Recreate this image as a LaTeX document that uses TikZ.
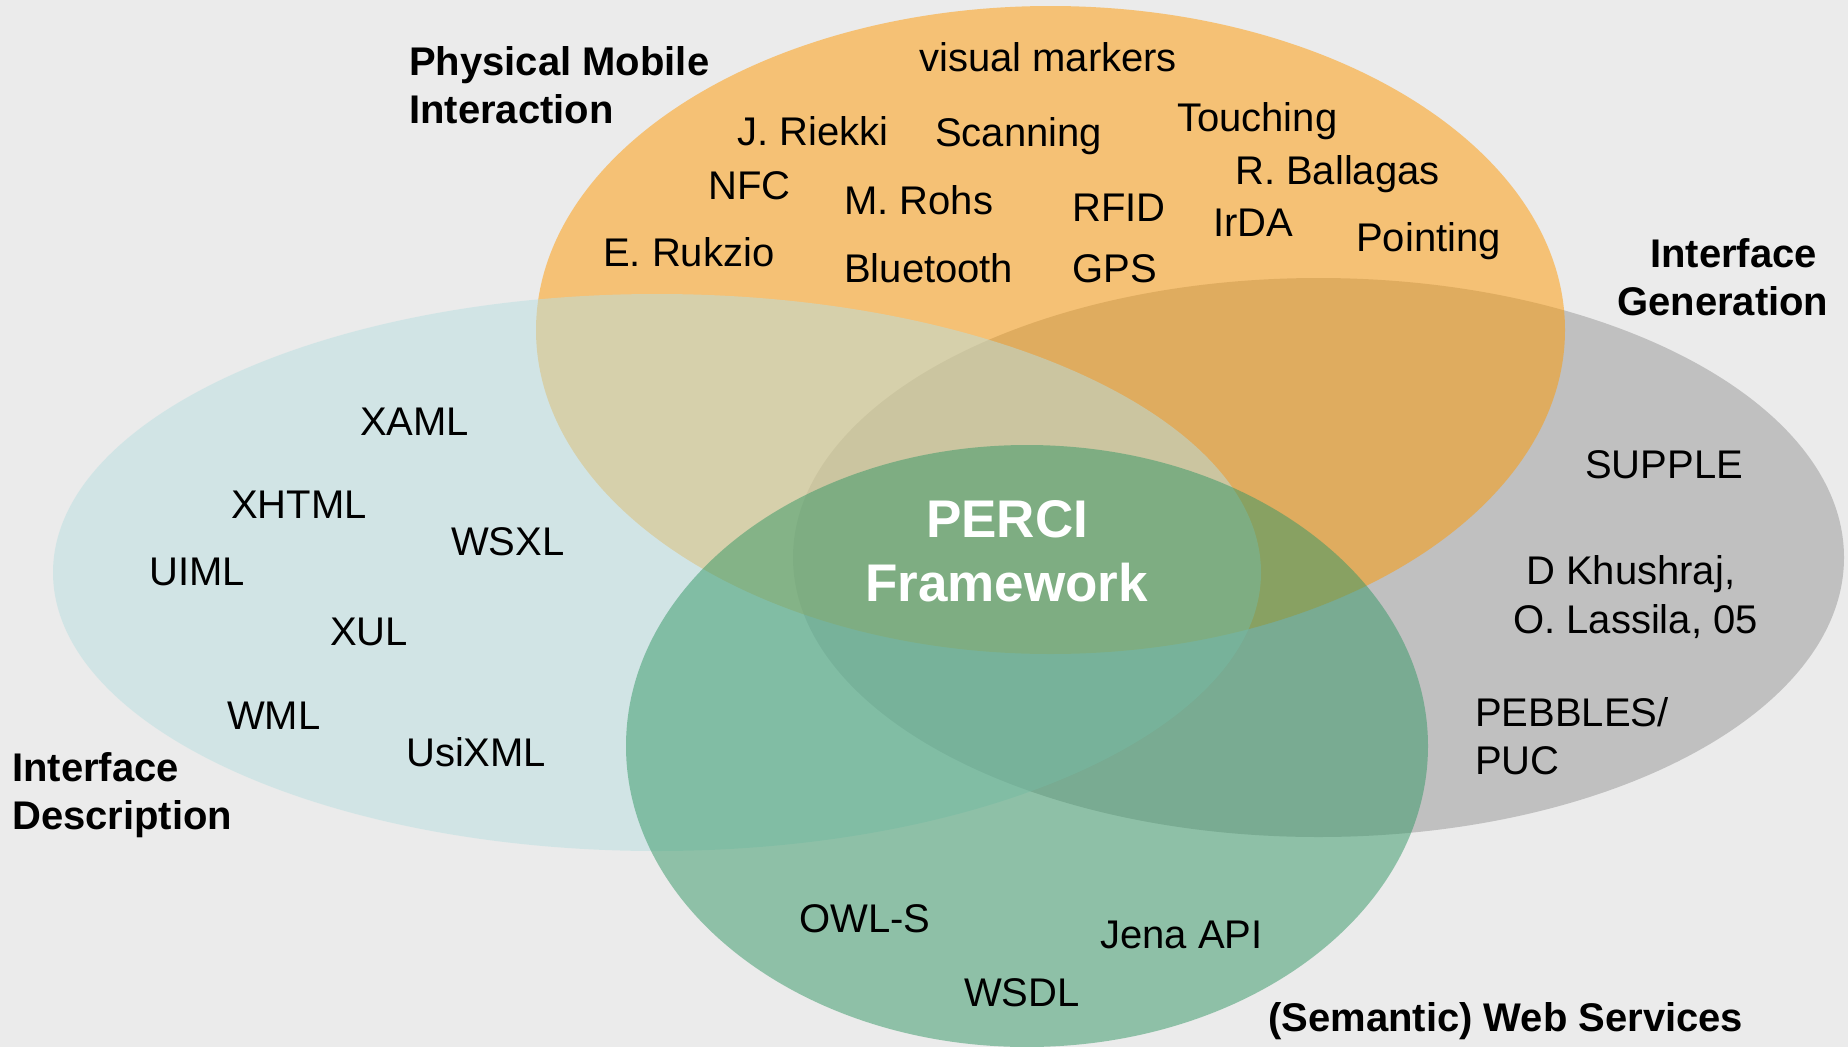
\documentclass[tikz,border=0pt]{standalone}
\usepackage{fontspec}
\setmainfont{Liberation Sans}
\definecolor{bgc}{RGB}{235,235,235}
\definecolor{cgrey}{RGB}{192,192,192}
\definecolor{corange}{RGB}{255,153,0}
\definecolor{cblue}{RGB}{185,223,225}
\definecolor{cgreen}{RGB}{51,151,101}
\begin{document}
\begin{tikzpicture}[x=1pt,y=-1pt,
  txt/.style={anchor=base west, inner sep=0pt, font=\fontsize{40}{48}\selectfont, text=black},
  ttl/.style={txt, font=\fontsize{40}{48}\selectfont\bfseries},
  big/.style={anchor=base west, inner sep=0pt, font=\fontsize{53}{64}\selectfont\bfseries, text=white},
  setfill/.style={fill=#1, fill opacity=0.5}]
\fill[bgc] (0,0) rectangle (1848,1047);
\useasboundingbox (0,0) rectangle (1848,1047);
% ellipses
\fill[cgrey] (1318.5,557.5) ellipse [x radius=525.5pt, y radius=279.5pt];
\fill[setfill=corange] (1050.5,330) ellipse [x radius=514.5pt, y radius=324pt];
\fill[setfill=cblue] (657,572.5) ellipse [x radius=604pt, y radius=278.5pt];
\fill[setfill=cgreen] (1027,746) ellipse [x radius=401pt, y radius=301pt];
% Physical Mobile Interaction
\node[ttl] (pmi1) at (409,75) {Physical Mobile};
\node[ttl] (pmi2) at (409,123) {Interaction};
\node[txt] (vm) at (919,71) {visual markers};
\node[txt] (jr) at (737,145) {J. Riekki};
\node[txt] (scan) at (935,146) {Scanning};
\node[txt] (touch) at (1177,131) {Touching};
\node[txt] (rb) at (1235,184) {R. Ballagas};
\node[txt] (nfc) at (708,199) {NFC};
\node[txt] (mr) at (844,214) {M. Rohs};
\node[txt] (rfid) at (1072,221) {RFID};
\node[txt] (irda) at (1213,236) {IrDA};
\node[txt] (point) at (1356,251) {Pointing};
\node[txt] (er) at (603,266) {E. Rukzio};
\node[txt] (bt) at (844,282) {Bluetooth};
\node[txt] (gps) at (1072,282) {GPS};
% Interface Generation
\node[ttl] (ig1) at (1650,267) {Interface};
\node[ttl] (ig2) at (1617,315) {Generation};
\node[txt] (supple) at (1585,478) {SUPPLE};
\node[txt] (dk) at (1526,584) {D Khushraj,};
\node[txt] (ol) at (1513,633) {O. Lassila, 05};
\node[txt] (peb) at (1475,726) {PEBBLES/};
\node[txt] (puc) at (1475,774) {PUC};
% Interface Description
\node[txt] (xaml) at (360,435) {XAML};
\node[txt] (xhtml) at (231,518) {XHTML};
\node[txt] (wsxl) at (451,555) {WSXL};
\node[txt] (uiml) at (149,585) {UIML};
\node[txt] (xul) at (330,645) {XUL};
\node[txt] (wml) at (227,729) {WML};
\node[txt] (usixml) at (406,766) {UsiXML};
\node[ttl] (id1) at (12,781) {Interface};
\node[ttl] (id2) at (12,829) {Description};
% PERCI
\node[big] (perci1) at (926,537) {PERCI};
\node[big] (perci2) at (865,601) {Framework};
% Semantic Web Services
\node[txt] (owls) at (799,932) {OWL-S};
\node[txt] (jena) at (1100,948) {Jena API};
\node[txt] (wsdl) at (964,1006) {WSDL};
\node[ttl] (sws) at (1268,1031) {(Semantic) Web Services};
\end{tikzpicture}
\end{document}
